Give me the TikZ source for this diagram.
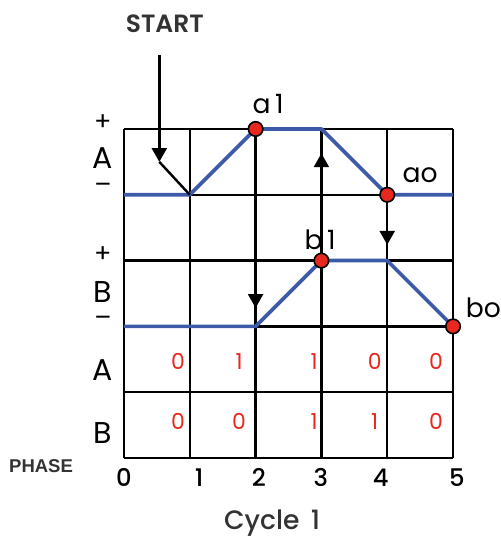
\documentclass[tikz,border=0pt]{standalone}
\usepackage{fontspec}
\setmainfont{Poppins}
\newfontfamily\phasefont{Liberation Sans}
\newfontfamily\medfont{Poppins Medium}
\newfontfamily\semifont{Poppins SemiBold}
\usetikzlibrary{arrows.meta,positioning}
\definecolor{cyBlue}{HTML}{3C5AA8}
\definecolor{cyRed}{HTML}{E8281E}
\definecolor{cyText}{HTML}{333333}

\begin{document}
\begin{tikzpicture}[
  gridline/.style={line width=1.05pt, black},
  wave/.style={line width=1.6pt, color=cyBlue, line join=round},
  reddot/.style={circle, draw=black, line width=0.7pt, fill=cyRed, inner sep=0pt, minimum size=0.22cm},
  sig/.style={-{Triangle[width=6.5pt, length=6pt]}, line width=0.9pt},
  rowlbl/.style={font=\fontsize{13}{13}\selectfont},
  signlbl/.style={font=\fontsize{11}{11}\selectfont},
  val/.style={text=cyRed, font=\fontsize{9.5}{9.5}\selectfont},
  phaseno/.style={font=\medfont\fontsize{10.5}{10.5}\selectfont},
  ptlbl/.style={font=\fontsize{11.5}{11.5}\selectfont}
]
  \useasboundingbox (-1.884,-1.185) rectangle (5.729,6.960);

  \draw[gridline] (0,0) grid (5,5);

  % wave points
  \coordinate (A0) at (0,4);
  \coordinate (A1) at (1,4);
  \coordinate (A2) at (2,5);
  \coordinate (A3) at (3,5);
  \coordinate (A4) at (4,4);
  \coordinate (A5) at (5,4);
  \coordinate (B0) at (0,2);
  \coordinate (B2) at (2,2);
  \coordinate (B3) at (3,3);
  \coordinate (B4) at (4,3);
  \coordinate (B5) at (5,2);

  \draw[wave] (A0) -- (A1) -- (A2) -- (A3) -- (A4) -- (A5);
  \draw[wave] (B0) -- (B2) -- (B3) -- (B4) -- (B5);

  % signals
  \coordinate (startTop) at (0.537,6.125);
  \coordinate (startTip) at (0.537,4.50);
  \coordinate (tipB) at (2,2.28);
  \coordinate (tipA) at (3,4.63);
  \coordinate (tipC) at (4,3.24);
  \draw[sig, line width=1.05pt] (startTop) -- (startTip);
  \draw[line width=1.05pt] (startTip) -- (A1);
  \draw[sig] (A2) -- (tipB);
  \draw[sig] (B3) -- (tipA);
  \draw[sig] (A4) -- (tipC);

  \node[reddot] (a1) at (A2) {};
  \node[reddot] (ao) at (A4) {};
  \node[reddot] (b1) at (B3) {};
  \node[reddot] (bo) at (B5) {};

  \node[ptlbl] (a1txt) at (2.19,5.38) {a\,1};
  \node[ptlbl] (aotxt) at (4.50,4.29) {ao};
  \node[ptlbl] (b1txt) at (2.98,3.31) {b\,1};
  \node[ptlbl] (botxt) at (5.46,2.29) {bo};

  \node[text=cyText, font=\semifont\fontsize{10.8}{10.8}\selectfont] (start) at (0.62,6.60) {START};

  % row labels
  \node[signlbl] (Aplus) at (-0.32,5.09) {+};
  \node[rowlbl] (Alab) at (-0.32,4.56) {A};
  \node[signlbl] (Aminus) at (-0.32,4.10) {--};
  \node[signlbl] (Bplus) at (-0.32,3.09) {+};
  \node[rowlbl] (Blab) at (-0.32,2.52) {B};
  \node[signlbl] (Bminus) at (-0.32,2.07) {--};
  \node[rowlbl] (Arow) at (-0.32,1.34) {A};
  \node[rowlbl] (Brow) at (-0.32,0.38) {B};

  % state table
  \node[val] (va1) at (0.82,1.46) {0};
  \node[val] (va2) at (1.75,1.46) {1};
  \node[val] (va3) at (2.89,1.46) {1};
  \node[val] (va4) at (3.81,1.46) {0};
  \node[val] (va5) at (4.74,1.46) {0};
  \node[val] (vb1) at (0.82,0.55) {0};
  \node[val] (vb2) at (1.75,0.55) {0};
  \node[val] (vb3) at (2.89,0.55) {1};
  \node[val] (vb4) at (3.81,0.55) {1};
  \node[val] (vb5) at (4.74,0.55) {0};

  % phases
  \node[phaseno] (p0) at (0,-0.30) {0};
  \node[phaseno] (p1) at (1.14,-0.30) {1};
  \node[phaseno] (p2) at (2.05,-0.30) {2};
  \node[phaseno] (p3) at (2.99,-0.30) {3};
  \node[phaseno] (p4) at (3.90,-0.30) {4};
  \node[phaseno] (p5) at (5.06,-0.30) {5};
  \node[text=cyText, font=\phasefont\bfseries\fontsize{8}{8}\selectfont] (phase) at (-1.26,-0.12) {PHASE};
  \node[text=cyText, font=\medfont\fontsize{11.5}{11.5}\selectfont] (cycle) at (2.25,-0.99) {Cycle\, 1};
\end{tikzpicture}
\end{document}
